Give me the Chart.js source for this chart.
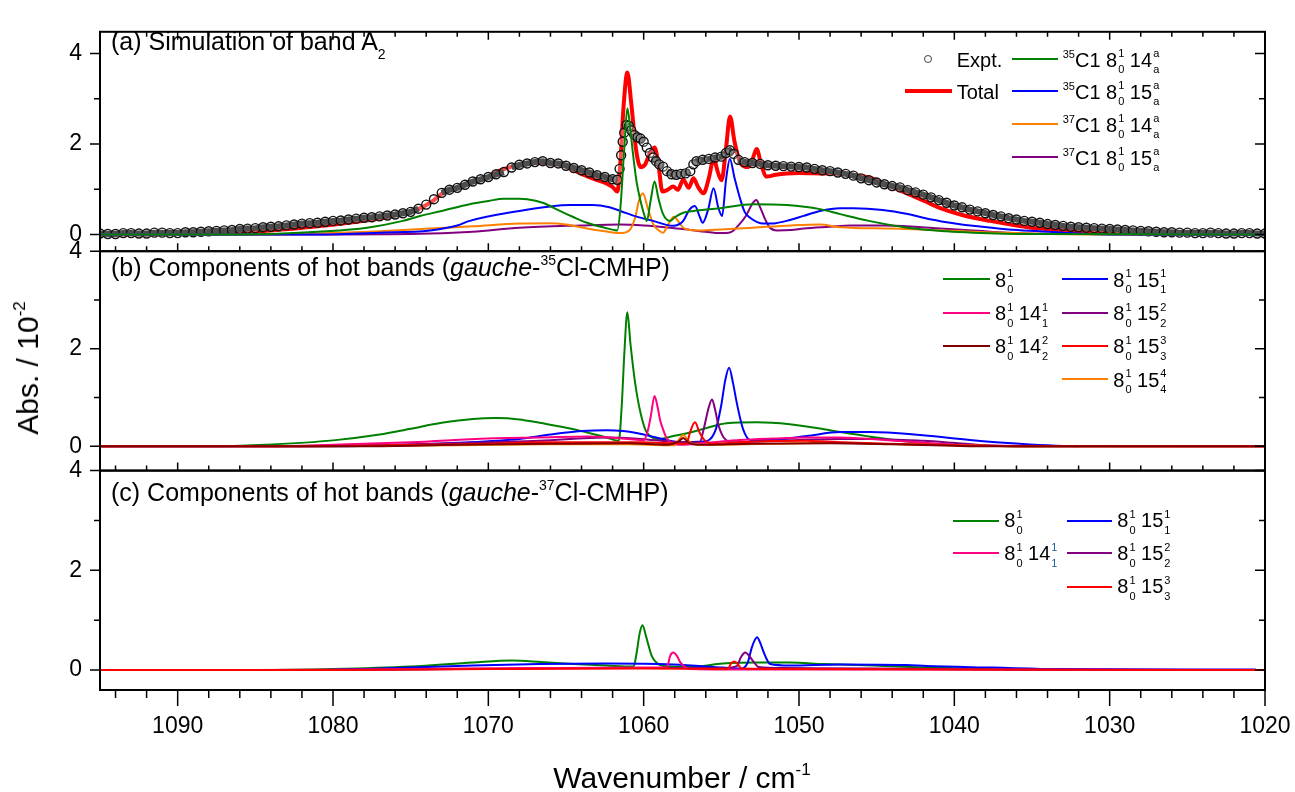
<!DOCTYPE html>
<html>
<head>
<meta charset="utf-8">
<script src="https://cdn.jsdelivr.net/npm/chart.js@4.4.1/dist/chart.umd.min.js"></script>
<style>
  body { margin: 0; background: #fff; }
  #wrap { position: relative; width: 1295px; height: 792px; overflow: hidden; font-family: 'Liberation Sans', Arial, sans-serif; }
  canvas { position: absolute; left: 0; top: 0; }
  .t { position: absolute; white-space: nowrap; color: #000; }
  .ttl { font-size: 25px; }
  .lg { font-size: 20px; }
  .axt { font-size: 30px; }
  .st { display: inline-block; vertical-align: -6.6px; font-size: 11px; line-height: 16px; margin-left: 1px; }
  .st span { display: block; }
  .lsp { font-size: 11px; position: relative; top: -9px; }
  .tsb { font-size: 14px; position: relative; top: 9px; }
  .tsp { font-size: 14px; position: relative; top: -11px; }
  .asp { font-size: 17px; position: relative; top: -13px; }
  .key { position: absolute; height: 2px; }
  .dot { position: absolute; box-sizing: border-box; width: 8px; height: 8px; border: 1.3px solid #444; border-radius: 50%; background: #fff; }
  #ytitle { position: absolute; left: 29.6px; top: 368px; font-size: 30px; line-height: 45px; white-space: nowrap;
            transform: translate(-50%, -50%) rotate(-90deg); }
</style>
</head>
<body>
<div id="wrap">
  <canvas id="chart" width="1295" height="792"></canvas>

  <!-- titres des panneaux -->
  <div class="t ttl" data-x="111" data-b="50">(a) Simulation of band A<span class="tsb">2</span></div>
  <div class="t ttl" data-x="111" data-b="276.7">(b) Components of hot bands (<i>gauche</i>-<span class="tsp">35</span>Cl-CMHP)</div>
  <div class="t ttl" data-x="111" data-b="501">(c) Components of hot bands (<i>gauche</i>-<span class="tsp">37</span>Cl-CMHP)</div>

  <!-- légende (a) -->
  <div class="dot" style="left:924px;top:55px"></div>
  <div class="t lg" data-x="956.7" data-b="66.7">Expt.</div>
  <div class="key" style="left:905px;top:89px;width:47px;height:4px;background:#FF0000"></div>
  <div class="t lg" data-x="956.7" data-b="99">Total</div>
  <div class="key" style="left:1012px;top:58px;width:46px;background:#008000"></div>
  <div class="t lg" data-x="1062.7" data-b="66.7"><span class="lsp">35</span>C1 8<span class="st"><span>1</span><span>0</span></span> 14<span class="st"><span>a</span><span>a</span></span></div>
  <div class="key" style="left:1012px;top:90px;width:46px;background:#0000FF"></div>
  <div class="t lg" data-x="1062.7" data-b="98.7"><span class="lsp">35</span>C1 8<span class="st"><span>1</span><span>0</span></span> 15<span class="st"><span>a</span><span>a</span></span></div>
  <div class="key" style="left:1012px;top:123.3px;width:46px;background:#FF8000"></div>
  <div class="t lg" data-x="1062.7" data-b="131.7"><span class="lsp">37</span>C1 8<span class="st"><span>1</span><span>0</span></span> 14<span class="st"><span>a</span><span>a</span></span></div>
  <div class="key" style="left:1012px;top:156.3px;width:46px;background:#800080"></div>
  <div class="t lg" data-x="1062.7" data-b="164.5"><span class="lsp">37</span>C1 8<span class="st"><span>1</span><span>0</span></span> 15<span class="st"><span>a</span><span>a</span></span></div>

  <!-- légende (b) -->
  <div class="key" style="left:943px;top:278.3px;width:47px;background:#008000"></div>
  <div class="t lg" data-x="995" data-b="286.7">8<span class="st"><span>1</span><span>0</span></span></div>
  <div class="key" style="left:943px;top:311.7px;width:47px;background:#FF0080"></div>
  <div class="t lg" data-x="995" data-b="320">8<span class="st"><span>1</span><span>0</span></span> 14<span class="st"><span>1</span><span>1</span></span></div>
  <div class="key" style="left:943px;top:345px;width:47px;background:#800000"></div>
  <div class="t lg" data-x="995" data-b="353.3">8<span class="st"><span>1</span><span>0</span></span> 14<span class="st"><span>2</span><span>2</span></span></div>
  <div class="key" style="left:1061.7px;top:278.3px;width:46.6px;background:#0000FF"></div>
  <div class="t lg" data-x="1113.3" data-b="286.7">8<span class="st"><span>1</span><span>0</span></span> 15<span class="st"><span>1</span><span>1</span></span></div>
  <div class="key" style="left:1061.7px;top:311.7px;width:46.6px;background:#800080"></div>
  <div class="t lg" data-x="1113.3" data-b="320">8<span class="st"><span>1</span><span>0</span></span> 15<span class="st"><span>2</span><span>2</span></span></div>
  <div class="key" style="left:1061.7px;top:345px;width:46.6px;background:#FF0000"></div>
  <div class="t lg" data-x="1113.3" data-b="353.3">8<span class="st"><span>1</span><span>0</span></span> 15<span class="st"><span>3</span><span>3</span></span></div>
  <div class="key" style="left:1061.7px;top:378.3px;width:46.6px;background:#FF8000"></div>
  <div class="t lg" data-x="1113.3" data-b="386.7">8<span class="st"><span>1</span><span>0</span></span> 15<span class="st"><span>4</span><span>4</span></span></div>

  <!-- légende (c) -->
  <div class="key" style="left:953.3px;top:519.7px;width:46px;background:#008000"></div>
  <div class="t lg" data-x="1004.3" data-b="527.3">8<span class="st"><span>1</span><span>0</span></span></div>
  <div class="key" style="left:953.3px;top:552.3px;width:46px;background:#FF0080"></div>
  <div class="t lg" data-x="1004.3" data-b="560">8<span class="st"><span>1</span><span>0</span></span> 14<span class="st" style="color:#1d5a9e"><span>1</span><span>1</span></span></div>
  <div class="key" style="left:1066.7px;top:519.7px;width:45.6px;background:#0000FF"></div>
  <div class="t lg" data-x="1117.3" data-b="527.3">8<span class="st"><span>1</span><span>0</span></span> 15<span class="st"><span>1</span><span>1</span></span></div>
  <div class="key" style="left:1066.7px;top:552.3px;width:45.6px;background:#800080"></div>
  <div class="t lg" data-x="1117.3" data-b="560">8<span class="st"><span>1</span><span>0</span></span> 15<span class="st"><span>2</span><span>2</span></span></div>
  <div class="key" style="left:1066.7px;top:585.7px;width:45.6px;background:#FF0000"></div>
  <div class="t lg" data-x="1117.3" data-b="593.3">8<span class="st"><span>1</span><span>0</span></span> 15<span class="st"><span>3</span><span>3</span></span></div>

  <!-- titres des axes -->
  <div class="t axt" data-x="682" data-b="788" data-center="1">Wavenumber / cm<span class="asp">-1</span></div>
  <div id="ytitle">Abs. / 10<span class="asp">-2</span></div>
</div>

<script>
// Graduations
const xTicks = [1020, 1030, 1040, 1050, 1060, 1070, 1080, 1090];
const yTicks = [0, 2, 4];
const yMinorTicks = [1, 3];

// (a) Expt.
const wnExpt = [
  1095,1094.5,1094,1093.5,1093,1092.5,1092,1091.5,1091,1090.5,
  1090,1089.5,1089,1088.5,1088,1087.5,1087,1086.5,1086,1085.5,
  1085,1084.5,1084,1083.5,1083,1082.5,1082,1081.5,1081,1080.5,
  1080,1079.5,1079,1078.5,1078,1077.5,1077,1076.5,1076,1075.5,
  1075,1074.5,1074,1073.5,1073,1072.5,1072,1071.5,1071,1070.5,
  1070,1069.5,1069,1068.5,1068,1067.5,1067,1066.5,1066,1065.5,
  1065,1064.5,1064,1063.5,1063,1062.5,1062,1061.7,1061.55,1061.45,
  1061.35,1061.25,1061.1,1060.95,1060.8,1060.6,1060.4,1060.2,1060,1059.8,
  1059.6,1059.4,1059.2,1059,1058.75,1058.5,1058.2,1057.9,1057.6,1057.3,
  1057,1056.8,1056.6,1056.2,1055.8,1055.4,1055,1054.7,1054.45,1054.2,
  1053.9,1053.5,1053,1052.5,1052,1051.5,1051,1050.5,1050,1049.5,
  1049,1048.5,1048,1047.5,1047,1046.5,1046,1045.5,1045,1044.5,
  1044,1043.5,1043,1042.5,1042,1041.5,1041,1040.5,1040,1039.5,
  1039,1038.5,1038,1037.5,1037,1036.5,1036,1035.5,1035,1034.5,
  1034,1033.5,1033,1032.5,1032,1031.5,1031,1030.5,1030,1029.5,
  1029,1028.5,1028,1027.5,1027,1026.5,1026,1025.5,1025,1024.5,
  1024,1023.5,1023,1022.5,1022,1021.5,1021,1020.5,1020];
const absExpt = [
  0.02,0.01,0.01,0.03,0.03,0.02,0.02,0.04,0.04,0.03,
  0.03,0.05,0.05,0.06,0.07,0.08,0.09,0.10,0.12,0.13,
  0.14,0.16,0.17,0.18,0.20,0.22,0.24,0.25,0.26,0.28,
  0.30,0.31,0.33,0.35,0.37,0.38,0.40,0.42,0.44,0.47,
  0.50,0.57,0.66,0.78,0.92,0.99,1.03,1.10,1.17,1.22,
  1.27,1.33,1.38,1.48,1.54,1.57,1.60,1.62,1.58,1.57,
  1.52,1.47,1.42,1.37,1.31,1.27,1.22,1.21,1.45,1.75,
  2.05,2.25,2.42,2.40,2.30,2.20,2.15,2.12,2.05,1.92,
  1.80,1.70,1.62,1.55,1.50,1.40,1.33,1.32,1.34,1.35,
  1.40,1.55,1.62,1.65,1.67,1.70,1.72,1.80,1.86,1.78,
  1.65,1.60,1.58,1.56,1.53,1.52,1.51,1.50,1.49,1.48,
  1.45,1.42,1.40,1.37,1.34,1.30,1.24,1.20,1.15,1.11,
  1.07,1.04,0.98,0.93,0.88,0.82,0.76,0.70,0.64,0.60,
  0.55,0.51,0.47,0.43,0.40,0.36,0.33,0.30,0.28,0.26,
  0.23,0.21,0.19,0.17,0.16,0.15,0.14,0.13,0.12,0.11,
  0.10,0.09,0.08,0.07,0.06,0.05,0.05,0.04,0.04,0.03,
  0.03,0.04,0.03,0.02,0.02,0.03,0.03,0.02,0.02];

// (a) Total
const wnTotal = [1095,1090,1087,1084,1081,1078,1076,1074.5,1074,1073.5,1073,1072,1071,1070,1069.5,1069,1068.5,1068,1067,1066,
  1065,1064,1063,1062.4,1062,1061.7,1061.5,1061.3,1061.05,1060.8,1060.5,1060.2,1059.9,1059.6,1059.3,1059.05,1058.8,1058.5,1058.1,1057.8,
  1057.45,1057.1,1056.8,1056.5,1056.15,1055.8,1055.5,1055.2,1054.98,1054.7,1054.44,1054.15,1053.8,1053.5,1053.26,1053,1052.73,1052.4,1052.08,1051.5,
  1050.8,1050,1048.65,1047.5,1046.7,1045.2,1044,1043.05,1042,1040.9,1039.5,1037.7,1036,1034.5,1032,1030.2,1027,1020];
const absTotal = [0,0.01,0.04,0.09,0.18,0.30,0.42,0.56,0.65,0.76,0.90,1.02,1.15,1.26,1.38,1.44,1.50,1.54,1.58,1.57,
  1.50,1.34,1.20,1.13,1.05,0.95,1.6,2.8,3.58,2.9,1.9,1.49,1.55,1.80,1.92,1.55,0.95,0.98,1.06,0.99,
  1.21,1.03,1.24,1.05,0.91,1.25,1.67,1.35,1.20,1.9,2.61,2.05,1.60,1.50,1.49,1.65,1.89,1.50,1.28,1.32,
  1.35,1.36,1.35,1.34,1.32,1.23,1.05,0.91,0.75,0.58,0.43,0.30,0.20,0.13,0.07,0.04,0.02,0.01];

// (a) 35Cl 14
const wn35x14 = [1095,1086,1084,1081,1077.8,1075.5,1074.4,1073,1071.2,1070,1069,1068,1067.5,1066.5,1065.4,1064.5,1063.65,1062.5,1061.7,1061.5,
  1061.25,1061.05,1060.85,1060.7,1060.45,1060.2,1059.95,1059.8,1059.55,1059.3,1059.05,1058.75,1058.3,1058,1057.45,1056.8,1055.1,1052.95,1050.8,1048.65,
  1047.35,1045.5,1043.05,1040.5,1038.8,1035,1020];
const abs35x14 = [0,0,0.01,0.06,0.15,0.30,0.41,0.52,0.67,0.74,0.79,0.79,0.78,0.70,0.52,0.38,0.26,0.15,0.09,0.58,
  1.9,2.79,2.3,1.82,1.15,0.74,0.42,0.30,0.75,1.17,0.80,0.45,0.30,0.38,0.48,0.52,0.58,0.67,0.65,0.56,
  0.45,0.30,0.15,0.07,0.04,0.01,0];

// (a) 35Cl 15
const wn35x15 = [1095,1081,1077,1073.75,1072,1071.2,1068,1066,1064.7,1063.3,1062.2,1061.5,1060.5,1059.4,1058.1,1057.75,1057.45,1057.05,1056.7,1056.4,
  1056.2,1055.85,1055.5,1055.2,1054.95,1054.7,1054.45,1054.15,1053.8,1053.5,1053.15,1052.3,1051.5,1050.8,1049.7,1048.65,1047.35,1046.5,1044.6,1043,
  1042,1040.5,1038.8,1036.5,1034.5,1032,1030,1020];
const abs35x15 = [0,0,0.04,0.09,0.20,0.30,0.52,0.62,0.65,0.65,0.60,0.52,0.40,0.30,0.19,0.22,0.30,0.55,0.63,0.40,
  0.26,0.55,1.02,0.60,0.41,1.20,1.67,1.25,0.80,0.50,0.37,0.24,0.25,0.30,0.41,0.52,0.58,0.58,0.54,0.45,
  0.37,0.27,0.19,0.11,0.07,0.02,0,0];

// (a) 37Cl 14
const wn37x14 = [1095,1085,1081,1077,1073.75,1071,1068,1066,1065,1063.65,1062.5,1061.5,1060.9,1060.55,1060.3,1060.05,1059.75,1059.4,1059,1058.75,
  1058.45,1058.05,1057.75,1057.45,1057,1056.2,1054.5,1052.95,1050.5,1048.65,1047.35,1044,1040.9,1038,1035,1030,1020];
const abs37x14 = [0,0,0.02,0.07,0.13,0.18,0.24,0.25,0.22,0.13,0.07,0.03,0.10,0.37,0.75,0.91,0.60,0.24,0.08,0.04,
  0.20,0.39,0.28,0.15,0.10,0.09,0.12,0.15,0.20,0.22,0.16,0.13,0.09,0.05,0.02,0,0];

// (a) 37Cl 15
const wn37x15 = [1095,1080,1073.75,1071,1068,1064,1061.5,1060,1058.3,1057,1056,1055.1,1054.4,1053.9,1053.4,1053,1052.75,1052.5,1052.2,1051.9,
  1051.4,1050.5,1049.7,1048,1046.7,1044.6,1042.5,1040.9,1038.5,1036.6,1033,1020];
const abs37x15 = [0,0,0.02,0.06,0.15,0.20,0.22,0.20,0.15,0.10,0.06,0.03,0.05,0.20,0.42,0.68,0.76,0.60,0.35,0.16,
  0.09,0.10,0.13,0.17,0.20,0.20,0.17,0.13,0.08,0.04,0.01,0];

// (b) gauche-35Cl
const wnB8 = [1095,1087,1084.25,1080,1077,1075,1073,1071,1069.5,1068,1066.7,1064.5,1062.4,1061.6,1061.4,1061.25,1061.05,1060.85,1060.55,1060.2,
  1059.8,1058.95,1058.1,1057,1055.9,1054.65,1052.7,1050.6,1048.4,1047.35,1045.5,1043.5,1041.5,1039,1036,1020];
const absB8 = [0,0,0.03,0.12,0.24,0.36,0.48,0.56,0.58,0.55,0.48,0.35,0.18,0.11,0.90,1.87,2.75,2.10,1.30,0.68,
  0.28,0.15,0.21,0.28,0.38,0.47,0.49,0.45,0.35,0.29,0.20,0.11,0.05,0.02,0,0];

const wnB14a = [1095,1084,1080,1075,1070,1066.7,1063.5,1061,1060,1059.75,1059.55,1059.3,1059.1,1058.95,1058.7,1058.5,1057.65,1055.9,1053.8,1051.65,
  1049.5,1047.35,1044.5,1041.5,1038.5,1020];
const absB14a = [0,0,0.03,0.08,0.16,0.18,0.20,0.15,0.12,0.30,0.60,1.03,0.80,0.55,0.30,0.15,0.03,0.07,0.13,0.16,
  0.18,0.18,0.13,0.06,0.01,0];

const wnB14b = [1095,1078,1072,1066,1061,1058.5,1057.75,1057.45,1057.15,1056.5,1053,1048,1044,1040,1038,1020];
const absB14b = [0,0,0.03,0.05,0.06,0.03,0.10,0.17,0.08,0.03,0.05,0.06,0.04,0.01,0,0];

const wnB15a = [1095,1080,1076,1072,1068,1066,1064,1062.4,1061.3,1060,1059.2,1057.65,1056.5,1055.9,1055.35,1055,1054.75,1054.5,1054.25,1054,
  1053.6,1053.15,1051.65,1049.5,1047.35,1045.4,1042.2,1039,1035.8,1033.5,1032];
const absB15a = [0,0,0.02,0.07,0.15,0.24,0.31,0.33,0.31,0.24,0.18,0.08,0.09,0.11,0.35,0.85,1.35,1.61,1.30,0.88,
  0.35,0.13,0.13,0.21,0.29,0.29,0.23,0.13,0.05,0.01,0];

const wnB15b = [1095,1082,1078,1072,1066.7,1062.4,1060.2,1058.1,1056.4,1056.1,1055.85,1055.6,1055.4,1055.2,1054.85,1054.2,1051.65,1047.35,1045.4,1042,
  1040.1,1038,1035,1020];
const absB15b = [0,0,0.02,0.06,0.11,0.18,0.15,0.09,0.08,0.40,0.75,0.96,0.75,0.45,0.18,0.08,0.11,0.15,0.15,0.11,
  0.07,0.02,0,0];

const wnB15c = [1095,1082,1076,1070,1066.7,1060.2,1058.1,1057.25,1057,1056.7,1056.4,1056.1,1055.5,1053.8,1049.5,1048.65,1044.35,1040,1036,1020];
const absB15c = [0,0,0.02,0.05,0.08,0.08,0.06,0.05,0.30,0.49,0.28,0.13,0.05,0.08,0.11,0.10,0.05,0.02,0,0];

const wnB15d = [1095,1080,1072,1066,1061,1058.5,1058,1057.7,1057.45,1057.2,1056.9,1056,1052,1048,1045,1040,1036,1020];
const absB15d = [0,0,0.02,0.04,0.04,0.02,0.02,0.15,0.23,0.15,0.05,0.03,0.05,0.07,0.05,0.02,0,0];

// (c) gauche-37Cl
const wnC8 = [1095,1085,1080,1075,1071,1068.5,1066.6,1064.5,1062.4,1060.65,1060.45,1060.25,1060.07,1059.85,1059.7,1059.5,1059.27,1058.7,1057,1054.9,
  1052.7,1050.6,1048.4,1045.2,1042,1038,1034,1020];
const absC8 = [0,0,0.02,0.07,0.15,0.19,0.16,0.12,0.09,0.07,0.35,0.75,0.90,0.68,0.51,0.30,0.18,0.08,0.06,0.13,
  0.15,0.15,0.12,0.09,0.05,0.02,0,0];

const wnC14a = [1095,1085,1075,1066.7,1060,1058.5,1058.3,1058.1,1057.85,1057.65,1057.3,1057,1053.8,1045,1020];
const absC14a = [0,0,0.02,0.04,0.05,0.05,0.28,0.35,0.28,0.16,0.05,0.02,0.01,0.01,0];

const wnC15a = [1095,1082,1076,1071,1066.7,1062.4,1058.1,1054.9,1053.8,1053.3,1053.05,1052.85,1052.7,1052.5,1052.3,1052.05,1051.85,1050.6,1047.4,1043.1,
  1041.8,1037.5,1033.2,1020.6];
const absC15a = [0,0,0.04,0.09,0.12,0.13,0.11,0.05,0.03,0.15,0.44,0.60,0.66,0.55,0.38,0.20,0.12,0.09,0.11,0.10,
  0.08,0.05,0.02,0.01];

const wnC15b = [1095,1080,1072,1064,1058,1055,1054,1053.75,1053.45,1053.2,1053.05,1052.8,1052.6,1051,1045,1038,1030,1020];
const absC15b = [0,0,0.02,0.04,0.04,0.04,0.08,0.25,0.35,0.28,0.22,0.12,0.06,0.04,0.03,0.01,0,0];

const wnC15c = [1095,1080,1070,1060,1055,1054.6,1054.35,1054.15,1053.9,1053.7,1050,1040,1020];
const absC15c = [0,0,0.02,0.03,0.02,0.02,0.14,0.17,0.10,0.03,0.02,0.01,0];

// couleurs
const GREEN = '#008000', BLUE = '#0000FF', RED = '#FF0000', ORANGE = '#FF8000',
      PURPLE = '#800080', PINK = '#FF0080', WINE = '#800000';

function pts(wn, ab) {
  return wn.map((x, i) => ({ x: x, y: ab[i] }));
}

function curve(wn, ab, color, axis, width, order) {
  return {
    data: pts(wn, ab), yAxisID: axis, borderColor: color, borderWidth: width || 2,
    pointRadius: 0, fill: false, cubicInterpolationMode: 'monotone', order: order || 1
  };
}

const expt = {
  data: pts(wnExpt, absExpt), yAxisID: 'ya', order: 2,
  borderColor: '#000', borderWidth: 6,
  pointRadius: 4.5, pointBorderWidth: 1.4, pointBorderColor: '#111',
  pointBackgroundColor: 'rgba(255,255,255,0.3)',
  // sur les fronts raides on ne voit que les cercles
  segment: { borderColor: c => Math.abs(c.p1.y - c.p0.y) > 4 ? 'rgba(0,0,0,0)' : undefined }
};

const datasets = [
  curve(wn35x14, abs35x14, GREEN, 'ya'),
  curve(wn35x15, abs35x15, BLUE, 'ya'),
  curve(wn37x14, abs37x14, ORANGE, 'ya'),
  curve(wn37x15, abs37x15, PURPLE, 'ya'),
  expt,
  curve(wnTotal, absTotal, RED, 'ya', 4, 3),

  curve(wnB14b, absB14b, WINE, 'yb'),
  curve(wnB15c, absB15c, RED, 'yb'),
  curve(wnB15d, absB15d, ORANGE, 'yb'),
  curve(wnB14a, absB14a, PINK, 'yb'),
  curve(wnB15b, absB15b, PURPLE, 'yb'),
  curve(wnB15a, absB15a, BLUE, 'yb'),
  curve(wnB8, absB8, GREEN, 'yb'),

  curve(wnC15c, absC15c, RED, 'yc'),
  curve(wnC14a, absC14a, PINK, 'yc'),
  curve(wnC15b, absC15b, PURPLE, 'yc'),
  curve(wnC15a, absC15a, BLUE, 'yc'),
  curve(wnC8, absC8, GREEN, 'yc')
];

function yScale(min, max, weight) {
  return {
    type: 'linear', position: 'left', stack: 'panels', stackWeight: 1, weight: weight,
    min: min, max: max,
    grid: { display: false, drawTicks: false }, border: { display: false },
    ticks: { autoSkip: false, padding: 18, color: '#000', font: { size: 23 }, callback: v => String(v) },
    afterBuildTicks: s => { s.ticks = yTicks.map(v => ({ value: v })); },
    afterFit: s => { s.width = 100; }
  };
}

// cadres et graduations de chaque panneau
const tickStyle = { ya: { top: 'in', bottom: 'in' }, yb: { bottom: 'in' }, yc: { bottom: 'out' } };

const framePlugin = {
  id: 'framePlugin',
  afterDraw(chart) {
    const ctx = chart.ctx;
    const left = chart.chartArea.left, right = chart.chartArea.right;
    const xs = chart.scales.x;
    const xMinor = [];
    for (let v = 1022; v < 1095; v += 2) if (v % 10 !== 0) xMinor.push(v);
    const seg = (x1, y1, x2, y2) => { ctx.moveTo(x1, y1); ctx.lineTo(x2, y2); };

    ctx.save();
    ctx.strokeStyle = '#000';
    ctx.lineWidth = 1.5;
    ctx.beginPath();
    ['ya', 'yb', 'yc'].forEach(id => {
      const ys = chart.scales[id];
      yTicks.forEach(v => {
        const p = ys.getPixelForValue(v);
        seg(left - 10, p, left, p);
        seg(right - 10, p, right, p);
      });
      yMinorTicks.forEach(v => {
        const p = ys.getPixelForValue(v);
        seg(left - 6, p, left, p);
        seg(right - 6, p, right, p);
      });
      ['top', 'bottom'].forEach(edge => {
        const mode = tickStyle[id][edge];
        if (!mode) return;
        const y0 = ys[edge];
        const dir = ((edge === 'top') === (mode === 'in')) ? 1 : -1;
        const big = mode === 'in' ? 8 : 16, small = mode === 'in' ? 5 : 8;
        xTicks.forEach(v => { const p = xs.getPixelForValue(v); seg(p, y0, p, y0 + dir * big); });
        xMinor.forEach(v => { const p = xs.getPixelForValue(v); seg(p, y0, p, y0 + dir * small); });
      });
    });
    ctx.stroke();

    ctx.lineWidth = 2;
    ['ya', 'yb', 'yc'].forEach(id => {
      const ys = chart.scales[id];
      ctx.strokeRect(left, ys.top, right - left, ys.bottom - ys.top);
    });
    ctx.restore();
  }
};

Chart.defaults.font.family = "'Liberation Sans', Arial, sans-serif";
Chart.defaults.color = '#000';

new Chart(document.getElementById('chart'), {
  type: 'line',
  data: { datasets: datasets },
  options: {
    responsive: false,
    animation: false,
    events: [],
    layout: { padding: { top: 17, right: 30, bottom: 0, left: 0 } },
    plugins: { legend: { display: false }, tooltip: { enabled: false } },
    scales: {
      x: {
        type: 'linear', position: 'bottom', reverse: true, min: 1020, max: 1095,
        grid: { display: false, drawTicks: false }, border: { display: false },
        ticks: { autoSkip: false, maxRotation: 0, padding: 23, color: '#000', font: { size: 23 }, callback: v => String(v) },
        afterBuildTicks: s => { s.ticks = xTicks.map(v => ({ value: v })); },
        afterFit: s => { s.height = 102; }
      },
      ya: yScale(-0.37, 4.48, 3),
      yb: yScale(-0.5, 4, 2),
      yc: yScale(-0.4, 4, 1)
    }
  },
  plugins: [framePlugin]
});

// placement des textes sur leur ligne de base
document.querySelectorAll('.t').forEach(el => {
  const fs = parseFloat(getComputedStyle(el).fontSize);
  const lh = fs * 1.5;
  el.style.lineHeight = lh + 'px';
  el.style.left = el.dataset.x + 'px';
  el.style.top = (el.dataset.b - (lh - 1.117 * fs) / 2 - 0.905 * fs) + 'px';
  if (el.dataset.center) el.style.transform = 'translateX(-50%)';
});
</script>
</body>
</html>
